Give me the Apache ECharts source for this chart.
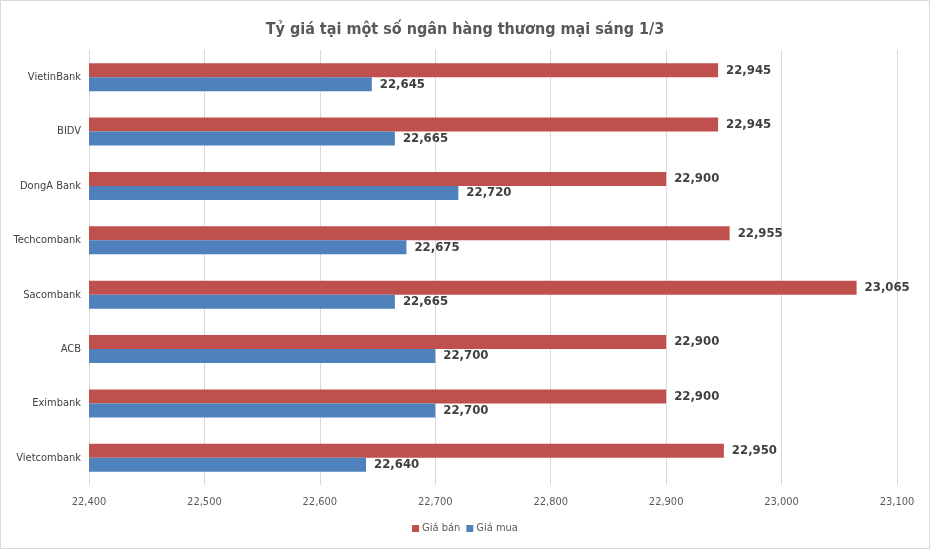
<!DOCTYPE html>
<html>
<head>
<meta charset="utf-8">
<script src="https://cdn.jsdelivr.net/npm/echarts@6/dist/echarts.min.js"></script>
<style>
html,body{margin:0;padding:0;background:#fff;}
#c{width:930px;height:549px;}
</style>
</head>
<body>
<div id="c"></div>
<script>
var categories = ["VietinBank", "BIDV", "DongA Bank", "Techcombank", "Sacombank", "ACB", "Eximbank", "Vietcombank"];
var giaBan = [22945, 22945, 22900, 22955, 23065, 22900, 22900, 22950];
var giaMua = [22645, 22665, 22720, 22675, 22665, 22700, 22700, 22640];
var seriesNames = ["Giá bán", "Giá mua"];
var titleText = "Tỷ giá tại một số ngân hàng thương mại sáng 1/3";

function fmt(v) { return String(v).replace(/\B(?=(\d{3})+(?!\d))/g, ","); }

var FONT = "'Liberation Sans Narrow', 'DejaVu Sans Condensed', 'Roboto Condensed', sans-serif";
var chart = echarts.init(document.getElementById('c'));
chart.setOption({
  animation: false,
  backgroundColor: '#fff',
  textStyle: { fontFamily: FONT },
  title: {
    text: titleText,
    left: 'center',
    top: 17,
    textStyle: { fontFamily: FONT, fontSize: 16, fontWeight: 'bold', color: '#595959' }
  },
  graphic: [{
    type: 'rect',
    shape: { x: 0.5, y: 0.5, width: 929, height: 548 },
    style: { fill: 'none', stroke: '#d9d9d9', lineWidth: 1 },
    silent: true
  }],
  legend: {
    data: seriesNames,
    bottom: 10,
    left: 'center',
    itemWidth: 7,
    itemHeight: 7,
    itemGap: 6,
    icon: 'rect',
    textStyle: { fontFamily: FONT, fontSize: 11, color: '#595959', padding: [0, 0, 0, -2] }
  },
  grid: { left: 89, right: 33, top: 50, bottom: 64, containLabel: false },
  xAxis: {
    type: 'value',
    min: 22400,
    max: 23100,
    interval: 100,
    axisLine: { show: false },
    axisTick: { show: false },
    splitLine: { show: true, lineStyle: { color: '#d9d9d9', width: 1 } },
    axisLabel: { fontFamily: FONT, fontSize: 11, color: '#595959', margin: 12, formatter: fmt }
  },
  yAxis: {
    type: 'category',
    data: categories,
    inverse: true,
    axisLine: { show: false },
    axisTick: { show: false },
    splitLine: { show: false },
    axisLabel: { fontFamily: FONT, fontSize: 11, color: '#404040', margin: 8 }
  },
  series: [
    {
      name: seriesNames[0],
      type: 'bar',
      data: giaBan,
      barWidth: 14,
      barGap: '0%',
      itemStyle: { color: '#C0504D' },
      label: {
        show: true, position: 'right', distance: 8,
        fontFamily: FONT, fontSize: 13, fontWeight: 'bold', color: '#404040',
        formatter: function (p) { return fmt(p.value); }
      }
    },
    {
      name: seriesNames[1],
      type: 'bar',
      data: giaMua,
      barWidth: 14,
      barGap: '0%',
      itemStyle: { color: '#4F81BD' },
      label: {
        show: true, position: 'right', distance: 8,
        fontFamily: FONT, fontSize: 13, fontWeight: 'bold', color: '#404040',
        formatter: function (p) { return fmt(p.value); }
      }
    }
  ]
});
</script>
</body>
</html>
